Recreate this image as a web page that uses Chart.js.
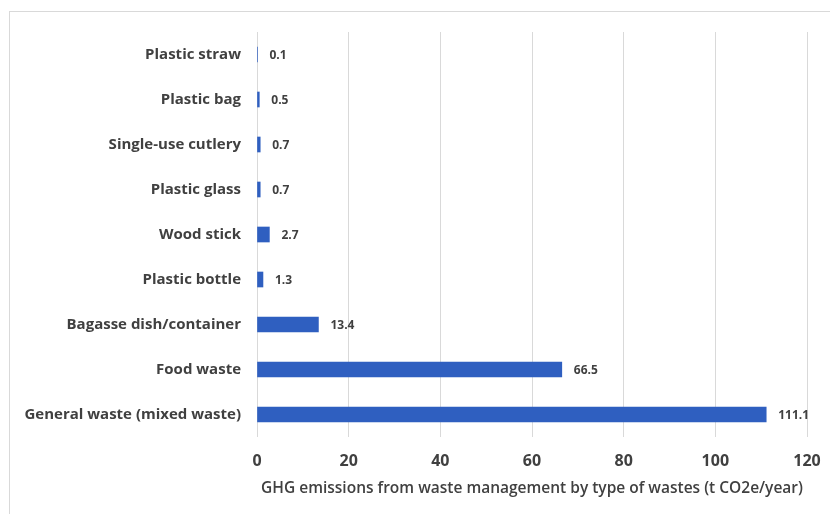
<!DOCTYPE html>
<html>
<head>
<meta charset="utf-8">
<script src="https://cdn.jsdelivr.net/npm/chart.js@4"></script>
<style>
  html, body { margin: 0; padding: 0; background: #fff; }
  #wrap { position: relative; width: 830px; height: 514px; }
  #frame { position: absolute; left: 9px; top: 11px; width: 840px; height: 520px;
           border-left: 1px solid #d9d9d9; border-top: 1px solid #d9d9d9; }
  canvas { position: absolute; left: 0; top: 0; }
</style>
</head>
<body>
<div id="wrap">
  <div id="frame"></div>
  <canvas id="chart" width="830" height="514"></canvas>
</div>
<script>
/* ── Data ───────────────────────────────────────── */
const categories = [
  'Plastic straw', 'Plastic bag', 'Single-use cutlery', 'Plastic glass',
  'Wood stick', 'Plastic bottle', 'Bagasse dish/container', 'Food waste',
  'General waste (mixed waste)'
];
const emissions = [0.1, 0.5, 0.7, 0.7, 2.7, 1.3, 13.4, 66.5, 111.1];
const axisMax = 120;
const axisStep = 20;
const axisTitle = 'GHG emissions from waste management by type of wastes (t CO2e/year)';

const textColor = '#404040';
const fontFamily = "'Open Sans', 'Noto Sans', sans-serif";

/* ── Value labels at the end of each bar ────────── */
const valueLabels = {
  id: 'valueLabels',
  afterDatasetsDraw(chart) {
    const ctx = chart.ctx;
    const meta = chart.getDatasetMeta(0);
    ctx.save();
    ctx.font = '700 12px ' + fontFamily;
    ctx.fillStyle = textColor;
    ctx.textAlign = 'left';
    ctx.textBaseline = 'middle';
    meta.data.forEach((bar, i) => {
      ctx.fillText(String(emissions[i]), bar.x + 12, bar.y + 1);
    });
    ctx.restore();
  }
};

new Chart(document.getElementById('chart'), {
  type: 'bar',
  data: {
    labels: categories,
    datasets: [{
      data: emissions,
      backgroundColor: '#2f5fc0',
      borderWidth: 0,
      barThickness: 15,
    }]
  },
  options: {
    indexAxis: 'y',
    responsive: false,
    animation: false,
    layout: { padding: { top: 32, right: 23, bottom: 0, left: 0 } },
    plugins: {
      legend: { display: false },
      tooltip: { enabled: false },
    },
    scales: {
      x: {
        min: 0,
        max: axisMax,
        ticks: {
          stepSize: axisStep,
          color: textColor,
          padding: 15,
          font: { family: fontFamily, size: 16, weight: '700' },
        },
        grid: { color: '#d9d9d9', drawTicks: false },
        border: { display: false },
        title: {
          display: true,
          text: axisTitle,
          color: textColor,
          padding: { top: 0, bottom: 16 },
          font: { family: fontFamily, size: 15.5, weight: '600' },
        },
        afterFit(scale) {
          scale.height = 77;
          scale.paddingLeft = 0;
          scale.paddingRight = 0;
        },
      },
      y: {
        ticks: {
          color: textColor,
          padding: 8,
          font: { family: fontFamily, size: 15, weight: '700' },
        },
        grid: { display: false },
        border: { display: false },
        afterFit(scale) { scale.width = 257; },
      }
    }
  },
  plugins: [valueLabels]
});
</script>
</body>
</html>
